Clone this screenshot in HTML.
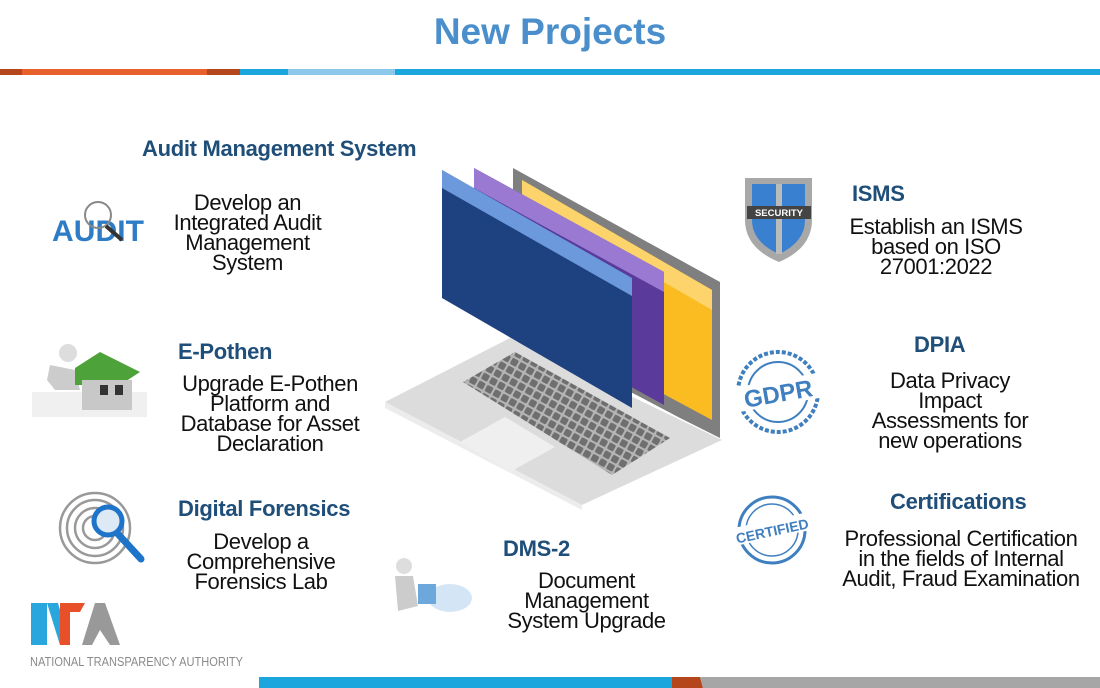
<!DOCTYPE html>
<html><head><meta charset="utf-8"><style>
body{margin:0;width:1100px;height:688px;background:#fff;position:relative;overflow:hidden;font-family:"Liberation Sans",sans-serif}
.t{position:absolute;text-align:center;line-height:20px;font-size:22px;color:#111;letter-spacing:-0.4px;white-space:nowrap}
.h{position:absolute;font-weight:bold;font-size:22px;color:#1f4e79;letter-spacing:-0.3px;white-space:nowrap}
</style></head><body>
<div style="position:absolute;left:0;top:11px;width:1100px;text-align:center;font-size:37px;font-weight:bold;color:#4a8fcb">New Projects</div>
<svg width="1100" height="688" style="position:absolute;left:0;top:0">
<defs>
<pattern id="keys" width="9" height="9" patternUnits="userSpaceOnUse" patternTransform="rotate(29)">
<rect width="9" height="9" fill="#b5b5b5"/><rect x="1" y="1" width="7" height="7" rx="1.5" fill="#6f6f6f"/>
</pattern>
</defs>
<rect x="0" y="69" width="22" height="6" fill="#b5461c"/>
<rect x="22" y="69" width="186" height="6" fill="#e8612c"/>
<rect x="207" y="69" width="33" height="6" fill="#b5461c"/>
<rect x="240" y="69" width="48" height="6" fill="#1ba6dd"/>
<rect x="288" y="69" width="107" height="6" fill="#8cc8ea"/>
<rect x="395" y="69" width="705" height="6" fill="#1ba6dd"/>
<rect x="259" y="677" width="413" height="11" fill="#1ba6dd"/>
<polygon points="672,677 700,677 703,688 672,688" fill="#b5461c"/>
<polygon points="700,677 1100,677 1100,688 703,688" fill="#a6a6a6"/>
<!-- laptop -->
<polygon points="385,402 510,338 722,440 582,505" fill="#dcdcdc"/>
<polygon points="385,402 582,505 582,510 385,408" fill="#ececec"/>
<polygon points="463,382 515,352 670,438 612,475" fill="url(#keys)"/>
<polygon points="460,442 505,417 555,447 510,472" fill="#efefef"/>
<polygon points="513,168 720,282 720,438 680,418 513,330" fill="#7f7f7f"/>
<polygon points="522,180 712,290 712,420 522,318" fill="#fbbc22"/>
<polygon points="522,180 712,290 712,310 522,200" fill="#fdd36b"/>
<polygon points="474,168 664,272 664,405 474,300" fill="#5a3a9a"/>
<polygon points="474,168 664,272 664,292 474,188" fill="#9a79d3"/>
<polygon points="442,170 632,278 632,408 442,298" fill="#1e4180"/>
<polygon points="442,170 632,278 632,296 442,188" fill="#6c98dc"/>
<!-- audit icon -->
<text x="52" y="241" font-size="30" font-weight="bold" fill="#2e7cc6" font-family="Liberation Sans" textLength="92">AUDIT</text>
<circle cx="98" cy="215" r="13" fill="none" stroke="#888" stroke-width="2"/>
<line x1="106" y1="226" x2="122" y2="240" stroke="#333" stroke-width="4"/>
<!-- house -->
<rect x="32" y="392" width="115" height="25" fill="#f0f0f0"/>
<circle cx="68" cy="353" r="9" fill="#ddd"/>
<path d="M50 365 l25 5 5 20 -25 0 -8 -10z" fill="#ccc"/>
<polygon points="75,368 100,352 140,372 120,385 75,385" fill="#4ea23a"/>
<rect x="82" y="380" width="50" height="30" fill="#c8c8c8"/>
<rect x="100" y="385" width="8" height="10" fill="#333"/><rect x="115" y="385" width="8" height="10" fill="#333"/>
<!-- fingerprint -->
<g fill="none" stroke="#999" stroke-width="2.5">
<circle cx="95" cy="528" r="12"/><circle cx="95" cy="528" r="20"/><circle cx="95" cy="528" r="28"/><circle cx="95" cy="528" r="35"/></g>
<circle cx="108" cy="521" r="14" fill="#dde9f5" stroke="#1e74c8" stroke-width="5"/>
<line x1="118" y1="534" x2="141" y2="559" stroke="#1e74c8" stroke-width="7" stroke-linecap="round"/>
<!-- security shield -->
<path d="M745 178 h67 v42 q0 28 -33 42 q-34 -14 -34 -42z" fill="#a8a8a8"/>
<path d="M752 184 h53 v36 q0 22 -26 34 q-27 -12 -27 -34z" fill="#3a80d0"/>
<rect x="776" y="184" width="6" height="70" fill="#bbb"/>
<rect x="747" y="206" width="64" height="13" fill="#444"/>
<text x="779" y="216" font-size="9.5" font-weight="bold" fill="#fff" text-anchor="middle" font-family="Liberation Sans">SECURITY</text>
<!-- GDPR stamp -->
<circle cx="778" cy="392" r="40" fill="none" stroke="#3f7fbf" stroke-width="4" stroke-dasharray="4 2"/>
<circle cx="778" cy="392" r="30" fill="none" stroke="#3f7fbf" stroke-width="2"/>
<rect x="733" y="380" width="90" height="25" fill="#fff" transform="rotate(-10 778 392)"/>
<text x="778" y="402" font-size="24" font-weight="bold" fill="#3f7fbf" text-anchor="middle" transform="rotate(-10 778 392)" font-family="Liberation Sans">GDPR</text>
<!-- certified -->
<circle cx="772" cy="530" r="33" fill="none" stroke="#3f7fbf" stroke-width="3"/>
<circle cx="772" cy="530" r="26" fill="none" stroke="#3f7fbf" stroke-width="1.5"/>
<rect x="733" y="520" width="80" height="18" fill="#fff" transform="rotate(-12 772 530)"/>
<text x="772" y="536" font-size="14" font-weight="bold" fill="#3f7fbf" text-anchor="middle" transform="rotate(-12 772 530)" font-family="Liberation Sans">CERTIFIED</text>
<!-- DMS figure -->
<ellipse cx="450" cy="598" rx="22" ry="14" fill="#d4e6f5"/>
<circle cx="404" cy="566" r="8" fill="#ddd"/>
<path d="M395 576 l18 0 5 30 -20 5z" fill="#ccc"/>
<rect x="418" y="584" width="18" height="20" fill="#6ca8dc"/>
<!-- NTA logo -->
<rect x="31" y="603" width="16" height="42" fill="#29a6de"/>
<polygon points="47,603 58,603 70,645 60,645" fill="#29a6de"/>
<polygon points="60,603 85,603 80,612 70,612 70,645 60,645" fill="#e8502a"/>
<polygon points="95,603 105,603 120,645 110,645 100,630 92,645 82,645" fill="#999"/>
<text x="30" y="666" font-size="13" fill="#8a8a8a" font-family="Liberation Sans" textLength="213" lengthAdjust="spacingAndGlyphs">NATIONAL TRANSPARENCY AUTHORITY</text>
</svg>
<div class="h" style="left:142px;top:136px">Audit Management System</div>
<div class="t" style="left:160px;top:193px;width:175px">Develop an<br>Integrated Audit<br>Management<br>System</div>
<div class="h" style="left:178px;top:339px">E-Pothen</div>
<div class="t" style="left:170px;top:374px;width:200px">Upgrade E-Pothen<br>Platform and<br>Database for Asset<br>Declaration</div>
<div class="h" style="left:178px;top:496px">Digital Forensics</div>
<div class="t" style="left:176px;top:532px;width:170px">Develop a<br>Comprehensive<br>Forensics Lab</div>
<div class="h" style="left:503px;top:536px">DMS-2</div>
<div class="t" style="left:494px;top:571px;width:185px">Document<br>Management<br>System Upgrade</div>
<div class="h" style="left:852px;top:181px">ISMS</div>
<div class="t" style="left:841px;top:217px;width:190px">Establish an ISMS<br>based on ISO<br>27001:2022</div>
<div class="h" style="left:914px;top:332px">DPIA</div>
<div class="t" style="left:855px;top:371px;width:190px">Data Privacy<br>Impact<br>Assessments for<br>new operations</div>
<div class="h" style="left:890px;top:489px">Certifications</div>
<div class="t" style="left:830px;top:529px;width:262px">Professional Certification<br>in the fields of Internal<br>Audit, Fraud Examination</div>
</body></html>
